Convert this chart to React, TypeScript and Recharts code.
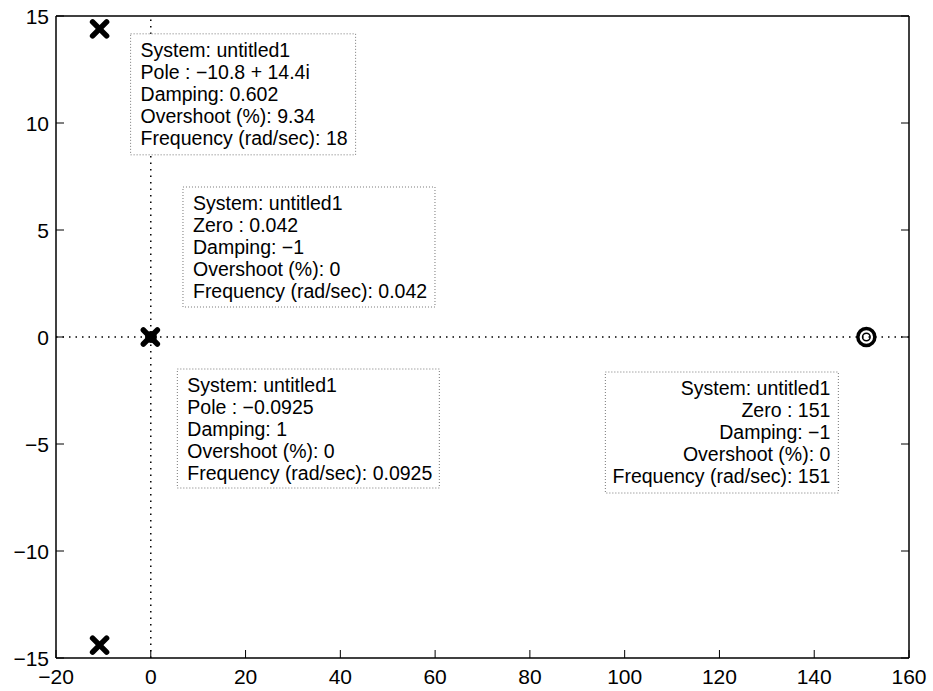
import {
  ReferenceDot,
  ReferenceLine,
  Scatter,
  ScatterChart,
  XAxis,
  YAxis,
} from 'recharts'

// axis ticks
const xTicks = [-20, 0, 20, 40, 60, 80, 100, 120, 140, 160]
const yTicks = [-15, -10, -5, 0, 5, 10, 15]

// pole / zero locations (real, imag)
const poles = [
  { x: -10.8, y: 14.4 },
  { x: -10.8, y: -14.4 },
  { x: -0.0925, y: 0 },
]
const zeros = [
  { x: 0.042, y: 0 },
  { x: 151, y: 0 },
]

// data tips: anchor point + text lines
const tipAnchors = [
  { x: -10.8, y: 14.4 },
  { x: 0.042, y: 0 },
  { x: -0.0925, y: 0 },
  { x: 151, y: 0 },
]
const tipLines = [
  [
    'System: untitled1',
    'Pole : \u221210.8 + 14.4i',
    'Damping: 0.602',
    'Overshoot (%): 9.34',
    'Frequency (rad/sec): 18',
  ],
  [
    'System: untitled1',
    'Zero : 0.042',
    'Damping: \u22121',
    'Overshoot (%): 0',
    'Frequency (rad/sec): 0.042',
  ],
  [
    'System: untitled1',
    'Pole : \u22120.0925',
    'Damping: 1',
    'Overshoot (%): 0',
    'Frequency (rad/sec): 0.0925',
  ],
  [
    'System: untitled1',
    'Zero : 151',
    'Damping: \u22121',
    'Overshoot (%): 0',
    'Frequency (rad/sec): 151',
  ],
]

// box placement relative to the marker, in px
const tipBoxes = [
  { dx: 31, dy: 5, w: 225, h: 121, align: 'left' },
  { dx: 32, dy: -150, w: 252, h: 120, align: 'left' },
  { dx: 27, dy: 32, w: 262, h: 119, align: 'left' },
  { dx: -261, dy: 35, w: 233, h: 121, align: 'right' },
]

const FONT = '"Liberation Sans", Arial, Helvetica, sans-serif'
const TICK = 8 // inward tick length
const minus = (v: number) => String(v).replace('-', '\u2212')

// MATLAB-style ticks: short line pointing into the plot, label outside
function BottomTick({ x, y, payload, gap }: any) {
  const y0 = y - gap
  return (
    <g>
      <line x1={x} x2={x} y1={y0} y2={y0 - TICK} stroke="#000" />
      <text x={x} y={y + 16} textAnchor="middle" fontSize={21} fill="#000">
        {minus(payload.value)}
      </text>
    </g>
  )
}
function LeftTick({ x, y, payload, gap }: any) {
  const x0 = x + gap
  return (
    <g>
      <line x1={x0} x2={x0 + TICK} y1={y} y2={y} stroke="#000" />
      <text x={x} y={y + 7.5} textAnchor="end" fontSize={21} fill="#000">
        {minus(payload.value)}
      </text>
    </g>
  )
}
function TopTick({ x, y }: any) {
  return <line x1={x} x2={x} y1={y} y2={y + TICK} stroke="#000" />
}
function RightTick({ x, y }: any) {
  return <line x1={x} x2={x - TICK} y1={y} y2={y} stroke="#000" />
}

function PoleMark({ cx, cy }: { cx?: number; cy?: number }) {
  if (cx == null || cy == null) return null
  const h = 7
  return (
    <g stroke="#000" strokeWidth={5.5} strokeLinecap="round">
      <line x1={cx - h} y1={cy - h} x2={cx + h} y2={cy + h} />
      <line x1={cx - h} y1={cy + h} x2={cx + h} y2={cy - h} />
    </g>
  )
}

function ZeroMark(props: any) {
  const { cx, cy, payload } = props
  if (cx == null || cy == null) return null
  // zero sitting under a pole only shows as a blob behind the x
  const hidden = poles.some(
    (p) => Math.abs(p.x - payload.x) < 1 && p.y === payload.y,
  )
  if (hidden) return <circle cx={cx} cy={cy} r={6} fill="#000" />
  return (
    <g fill="none" stroke="#000">
      <circle cx={cx} cy={cy} r={8.5} strokeWidth={3.5} />
      <circle cx={cx} cy={cy} r={3.8} strokeWidth={1.5} />
    </g>
  )
}

function DataTip({ cx, cy, idx }: { cx?: number; cy?: number; idx: number }) {
  if (cx == null || cy == null) return null
  const b = tipBoxes[idx]
  const left = cx + b.dx
  const top = cy + b.dy
  const right = b.align === 'right'
  return (
    <g>
      <rect
        x={left}
        y={top}
        width={b.w}
        height={b.h}
        fill="#fff"
        stroke="#777"
        strokeWidth={1}
        strokeDasharray="1 2"
      />
      {tipLines[idx].map((t, i) => (
        <text
          key={i}
          x={right ? left + b.w - 8 : left + 10}
          y={top + 23 + i * 22}
          textAnchor={right ? 'end' : 'start'}
          fontSize={19.5}
          fontFamily={FONT}
          fill="#000"
        >
          {t}
        </text>
      ))}
    </g>
  )
}

export default function App() {
  const axisLine = { stroke: '#000', strokeWidth: 1.5 }

  return (
    <div
      style={{
        position: 'absolute',
        left: 0,
        top: 0,
        width: 933,
        height: 691,
        background: '#fff',
        fontFamily: FONT,
      }}
    >
      <ScatterChart
        width={933}
        height={691}
        margin={{ top: 15, right: 23, bottom: 0, left: 0 }}
      >
        <XAxis
          type="number"
          dataKey="x"
          domain={[-20, 160]}
          ticks={xTicks}
          interval={0}
          height={33}
          tickSize={0}
          tickMargin={10}
          axisLine={axisLine}
          tickLine={false}
          tick={<BottomTick gap={10} />}
          allowDataOverflow
        />
        <XAxis
          xAxisId="top"
          type="number"
          orientation="top"
          domain={[-20, 160]}
          ticks={xTicks}
          interval={0}
          height={1}
          tickSize={0}
          tickMargin={0}
          axisLine={axisLine}
          tickLine={false}
          tick={<TopTick />}
          allowDataOverflow
        />
        <YAxis
          type="number"
          dataKey="y"
          domain={[-15, 15]}
          ticks={yTicks}
          interval={0}
          width={56}
          tickSize={0}
          tickMargin={7}
          axisLine={axisLine}
          tickLine={false}
          tick={<LeftTick gap={7} />}
          allowDataOverflow
        />
        <YAxis
          yAxisId="right"
          type="number"
          orientation="right"
          domain={[-15, 15]}
          ticks={yTicks}
          interval={0}
          width={1}
          tickSize={0}
          tickMargin={0}
          axisLine={axisLine}
          tickLine={false}
          tick={<RightTick />}
          allowDataOverflow
        />

        <ReferenceLine
          y={0}
          stroke="#000"
          strokeWidth={1.5}
          strokeDasharray="1.5 5"
        />
        <ReferenceLine
          x={0}
          stroke="#000"
          strokeWidth={1.5}
          strokeDasharray="1.5 5"
        />

        <Scatter
          data={zeros}
          isAnimationActive={false}
          shape={(p: any) => <ZeroMark {...p} />}
        />
        <Scatter
          data={poles}
          isAnimationActive={false}
          shape={(p: any) => <PoleMark cx={p.cx} cy={p.cy} />}
        />

        {tipAnchors.map((a, i) => (
          <ReferenceDot
            key={i}
            x={a.x}
            y={a.y}
            r={0}
            shape={(p: any) => <DataTip cx={p.cx} cy={p.cy} idx={i} />}
          />
        ))}
      </ScatterChart>
    </div>
  )
}
